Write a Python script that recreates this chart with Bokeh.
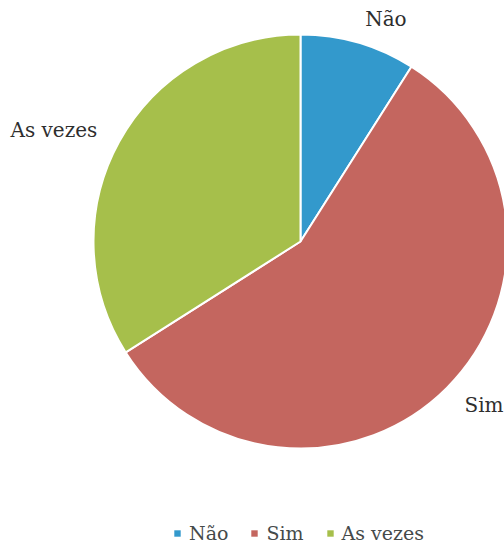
import math
from bokeh.plotting import figure
from bokeh.models import ColumnDataSource, Range1d, Legend, LegendItem
from bokeh.core.properties import value
from bokeh.embed import file_html
from bokeh.resources import INLINE

# ---- data ----
categories = ["Não", "Sim", "As vezes"]
shares = [9, 57, 34]
colors = ["#3399cc", "#c4665f", "#a6bf4b"]

# ---- layout ----
W, H = 504, 552
cx, cy, r = 300, 311, 207
label_factor = 1.12
font = "DejaVu Serif"

total = float(sum(shares))
starts, ends, mids = [], [], []
cum = 0.0
for s in shares:
    a0 = math.pi / 2 - 2 * math.pi * cum / total
    cum += s
    a1 = math.pi / 2 - 2 * math.pi * cum / total
    starts.append(a1)
    ends.append(a0)
    mids.append((a0 + a1) / 2)

src = ColumnDataSource(dict(cat=categories, start=starts, end=ends, color=colors,
                            x=[cx] * len(shares), y=[cy] * len(shares)))

p = figure(width=W, height=H, output_backend="svg", toolbar_location=None,
           x_range=Range1d(0, W), y_range=Range1d(0, H), min_border=0)
p.axis.visible = False
p.grid.visible = False
p.outline_line_color = None

p.wedge(x="x", y="y", radius=r, start_angle="start", end_angle="end",
        fill_color="color", line_color="white", line_width=2, source=src)

# zero-size rects used only as legend swatches
sw = p.rect(x="x", y="y", width=0, height=0, fill_color="color", line_color=None, source=src)

lx, ly, align = [], [], []
for m in mids:
    lx.append(cx + r * label_factor * math.cos(m))
    ly.append(cy + r * label_factor * math.sin(m))
    align.append("left" if math.cos(m) >= 0 else "right")
lsrc = ColumnDataSource(dict(x=lx, y=ly, t=categories, a=align))
p.text(x="x", y="y", text="t", text_align="a", text_baseline="middle",
       text_font=value(font), text_font_size="20px",
       text_color="#2e2e2e", source=lsrc)

items = [LegendItem(label=c, renderers=[sw], index=i) for i, c in enumerate(categories)]
legend = Legend(items=items, orientation="horizontal", location=(173, 8),
                label_text_font=font, label_text_font_size="19px",
                label_text_color="#454a4a",
                glyph_width=8, glyph_height=8, label_standoff=8, spacing=22,
                padding=0, margin=0, border_line_color=None, background_fill_alpha=0,
                label_height=14)
p.add_layout(legend, "center")

open("out.html", "w").write(file_html(p, INLINE))
